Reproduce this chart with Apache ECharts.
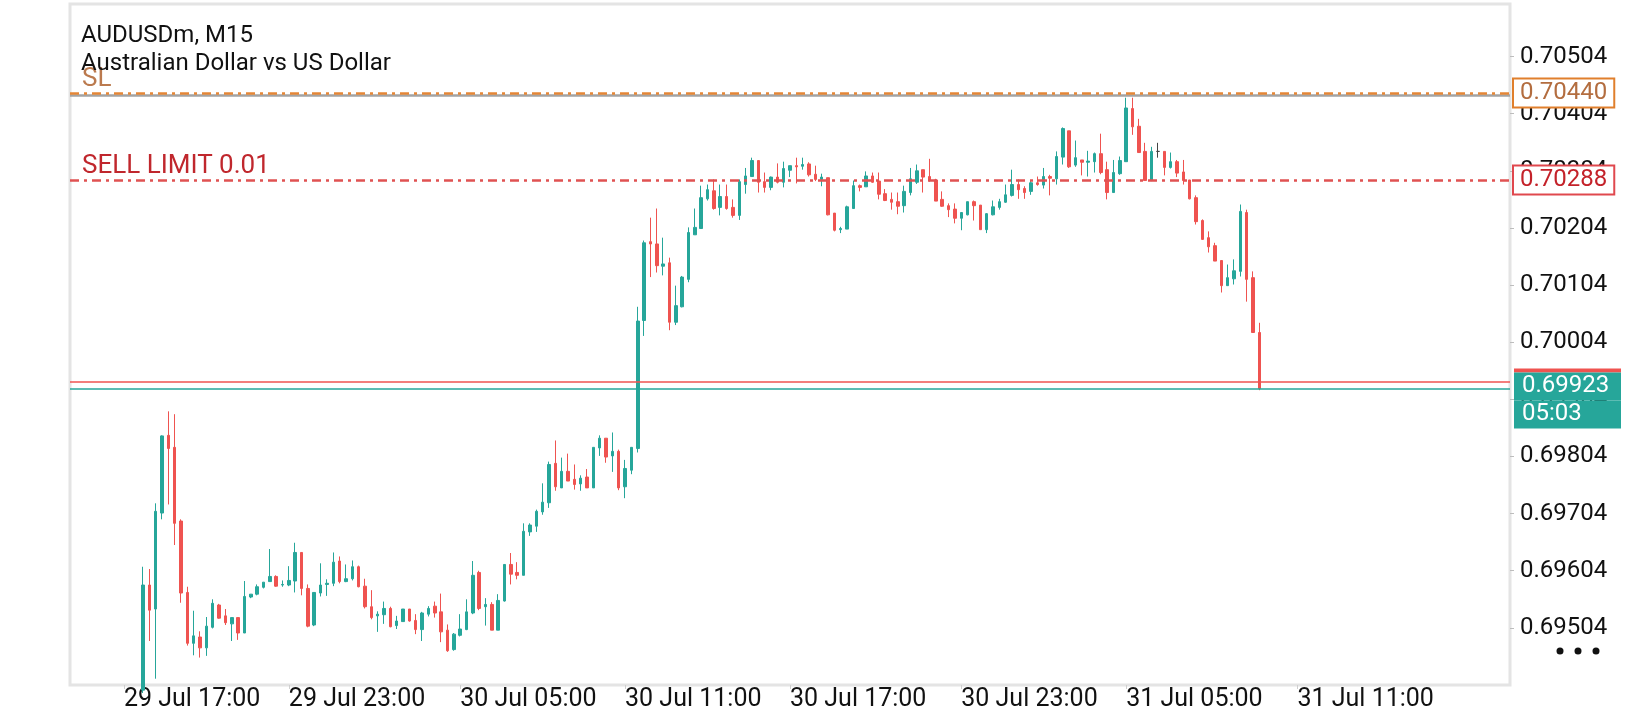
<!DOCTYPE html>
<html>
<head>
<meta charset="utf-8">
<title>AUDUSDm, M15</title>
<script src="https://cdn.jsdelivr.net/npm/echarts@6/dist/echarts.min.js"></script>
<style>
  html, body { margin: 0; padding: 0; background: #fff; }
  #main { width: 1640px; height: 720px; }
</style>
</head>
<body>
<div id="main"></div>
<script>
// M15 bars, oldest first
var opens = [
  0.69395, 0.69579, 0.69537, 0.69705, 0.69841, 0.69820, 0.69691, 0.69566, 0.69477, 0.69488,
  0.69469, 0.69505, 0.69544, 0.69525, 0.69511, 0.69522, 0.69495, 0.69558, 0.69563, 0.69575,
  0.69585, 0.69594, 0.69579, 0.69579, 0.69586, 0.69636, 0.69573, 0.69509, 0.69565, 0.69580,
  0.69582, 0.69621, 0.69585, 0.69590, 0.69611, 0.69577, 0.69541, 0.69525, 0.69527, 0.69538,
  0.69508, 0.69515, 0.69537, 0.69517, 0.69501, 0.69528, 0.69542, 0.69532, 0.69500, 0.69466,
  0.69491, 0.69501, 0.69530, 0.69601, 0.69541, 0.69545, 0.69500, 0.69551, 0.69615, 0.69601,
  0.69596, 0.69672, 0.69682, 0.69707, 0.69723, 0.69792, 0.69749, 0.69778, 0.69764, 0.69756,
  0.69768, 0.69749, 0.69819, 0.69836, 0.69805, 0.69813, 0.69751, 0.69780, 0.69818, 0.70042,
  0.70180, 0.70176, 0.70137, 0.70143, 0.70039, 0.70066, 0.70114, 0.70192, 0.70203, 0.70255,
  0.70269, 0.70240, 0.70259, 0.70240, 0.70226, 0.70280, 0.70294, 0.70322, 0.70285, 0.70275,
  0.70293, 0.70284, 0.70305, 0.70313, 0.70312, 0.70316, 0.70298, 0.70289, 0.70292, 0.70230,
  0.70201, 0.70202, 0.70238, 0.70278, 0.70276, 0.70295, 0.70286, 0.70264, 0.70254, 0.70250,
  0.70243, 0.70266, 0.70284, 0.70306, 0.70294, 0.70288, 0.70254, 0.70243, 0.70237, 0.70221,
  0.70227, 0.70250, 0.70244, 0.70201, 0.70227, 0.70240, 0.70249, 0.70261, 0.70280, 0.70273,
  0.70268, 0.70283, 0.70279, 0.70294, 0.70290, 0.70328, 0.70374, 0.70314, 0.70323, 0.70319,
  0.70320, 0.70334, 0.70306, 0.70266, 0.70299, 0.70320, 0.70413, 0.70382, 0.70338, 0.70287,
  0.70338, 0.70338, 0.70310, 0.70320, 0.70302, 0.70288, 0.70257, 0.70217, 0.70187, 0.70173,
  0.70147, 0.70103, 0.70115, 0.70128, 0.70231, 0.70117, 0.70021
];
var closes = [
  0.69579, 0.69535, 0.69708, 0.69840, 0.69818, 0.69687, 0.69565, 0.69477, 0.69490, 0.69469,
  0.69507, 0.69547, 0.69521, 0.69513, 0.69522, 0.69495, 0.69559, 0.69563, 0.69576, 0.69584,
  0.69594, 0.69577, 0.69580, 0.69587, 0.69636, 0.69573, 0.69507, 0.69566, 0.69579, 0.69582,
  0.69619, 0.69585, 0.69590, 0.69611, 0.69576, 0.69541, 0.69522, 0.69528, 0.69538, 0.69506,
  0.69516, 0.69537, 0.69516, 0.69501, 0.69530, 0.69538, 0.69530, 0.69497, 0.69464, 0.69493,
  0.69502, 0.69532, 0.69596, 0.69538, 0.69545, 0.69500, 0.69552, 0.69615, 0.69598, 0.69596,
  0.69673, 0.69684, 0.69708, 0.69724, 0.69790, 0.69751, 0.69778, 0.69761, 0.69755, 0.69766,
  0.69749, 0.69820, 0.69836, 0.69803, 0.69813, 0.69749, 0.69783, 0.69820, 0.70041, 0.70178,
  0.70176, 0.70138, 0.70141, 0.70039, 0.70068, 0.70118, 0.70196, 0.70205, 0.70257, 0.70271,
  0.70238, 0.70259, 0.70238, 0.70226, 0.70285, 0.70295, 0.70322, 0.70284, 0.70275, 0.70293,
  0.70284, 0.70308, 0.70313, 0.70311, 0.70315, 0.70297, 0.70289, 0.70293, 0.70227, 0.70200,
  0.70203, 0.70241, 0.70278, 0.70275, 0.70295, 0.70284, 0.70263, 0.70252, 0.70249, 0.70242,
  0.70268, 0.70290, 0.70304, 0.70293, 0.70287, 0.70251, 0.70242, 0.70236, 0.70221, 0.70231,
  0.70250, 0.70243, 0.70201, 0.70229, 0.70241, 0.70250, 0.70262, 0.70280, 0.70271, 0.70266,
  0.70283, 0.70280, 0.70294, 0.70291, 0.70329, 0.70378, 0.70311, 0.70327, 0.70319, 0.70321,
  0.70334, 0.70301, 0.70266, 0.70301, 0.70322, 0.70414, 0.70381, 0.70336, 0.70287, 0.70338,
  0.70338, 0.70310, 0.70320, 0.70300, 0.70287, 0.70255, 0.70215, 0.70184, 0.70171, 0.70146,
  0.70103, 0.70117, 0.70129, 0.70233, 0.70114, 0.70021, 0.69923
];
var lows = [
  0.69390, 0.69481, 0.69415, 0.69694, 0.69720, 0.69649, 0.69548, 0.69473, 0.69456, 0.69452,
  0.69455, 0.69503, 0.69520, 0.69509, 0.69481, 0.69483, 0.69495, 0.69556, 0.69561, 0.69573,
  0.69585, 0.69576, 0.69576, 0.69577, 0.69566, 0.69561, 0.69505, 0.69507, 0.69559, 0.69560,
  0.69577, 0.69582, 0.69584, 0.69587, 0.69575, 0.69538, 0.69519, 0.69497, 0.69511, 0.69505,
  0.69502, 0.69515, 0.69515, 0.69493, 0.69481, 0.69524, 0.69522, 0.69479, 0.69462, 0.69464,
  0.69489, 0.69500, 0.69528, 0.69535, 0.69508, 0.69500, 0.69500, 0.69550, 0.69580, 0.69589,
  0.69596, 0.69665, 0.69672, 0.69702, 0.69714, 0.69744, 0.69749, 0.69761, 0.69746, 0.69744,
  0.69749, 0.69749, 0.69805, 0.69793, 0.69777, 0.69745, 0.69731, 0.69773, 0.69811, 0.70015,
  0.70118, 0.70126, 0.70121, 0.70025, 0.70034, 0.70065, 0.70109, 0.70192, 0.70203, 0.70252,
  0.70236, 0.70226, 0.70236, 0.70222, 0.70218, 0.70264, 0.70294, 0.70266, 0.70266, 0.70270,
  0.70282, 0.70275, 0.70293, 0.70282, 0.70306, 0.70294, 0.70286, 0.70277, 0.70226, 0.70198,
  0.70195, 0.70202, 0.70238, 0.70268, 0.70276, 0.70283, 0.70254, 0.70251, 0.70236, 0.70228,
  0.70231, 0.70261, 0.70281, 0.70266, 0.70285, 0.70251, 0.70241, 0.70223, 0.70212, 0.70200,
  0.70226, 0.70217, 0.70201, 0.70195, 0.70226, 0.70236, 0.70248, 0.70259, 0.70255, 0.70255,
  0.70262, 0.70278, 0.70273, 0.70261, 0.70280, 0.70315, 0.70309, 0.70311, 0.70296, 0.70294,
  0.70301, 0.70298, 0.70254, 0.70266, 0.70297, 0.70320, 0.70367, 0.70336, 0.70287, 0.70286,
  0.70327, 0.70296, 0.70308, 0.70293, 0.70280, 0.70254, 0.70210, 0.70183, 0.70161, 0.70146,
  0.70091, 0.70103, 0.70105, 0.70119, 0.70075, 0.70021, 0.69920
];
var highs = [
  0.69611, 0.69607, 0.69722, 0.69841, 0.69883, 0.69878, 0.69694, 0.69576, 0.69534, 0.69498,
  0.69523, 0.69554, 0.69546, 0.69537, 0.69522, 0.69522, 0.69586, 0.69563, 0.69580, 0.69584,
  0.69642, 0.69596, 0.69587, 0.69612, 0.69653, 0.69636, 0.69580, 0.69566, 0.69617, 0.69589,
  0.69636, 0.69629, 0.69615, 0.69622, 0.69613, 0.69590, 0.69570, 0.69533, 0.69550, 0.69541,
  0.69525, 0.69537, 0.69537, 0.69528, 0.69532, 0.69542, 0.69550, 0.69564, 0.69510, 0.69495,
  0.69528, 0.69554, 0.69621, 0.69604, 0.69556, 0.69549, 0.69563, 0.69615, 0.69635, 0.69619,
  0.69687, 0.69687, 0.69711, 0.69757, 0.69795, 0.69832, 0.69802, 0.69809, 0.69790, 0.69771,
  0.69782, 0.69820, 0.69841, 0.69836, 0.69846, 0.69816, 0.69798, 0.69820, 0.70066, 0.70182,
  0.70222, 0.70238, 0.70187, 0.70152, 0.70103, 0.70120, 0.70205, 0.70238, 0.70278, 0.70280,
  0.70289, 0.70280, 0.70280, 0.70254, 0.70289, 0.70309, 0.70327, 0.70322, 0.70301, 0.70294,
  0.70317, 0.70320, 0.70313, 0.70327, 0.70327, 0.70319, 0.70313, 0.70299, 0.70292, 0.70230,
  0.70206, 0.70243, 0.70287, 0.70280, 0.70303, 0.70301, 0.70301, 0.70272, 0.70266, 0.70266,
  0.70278, 0.70309, 0.70315, 0.70306, 0.70325, 0.70290, 0.70268, 0.70247, 0.70247, 0.70231,
  0.70250, 0.70252, 0.70244, 0.70230, 0.70252, 0.70255, 0.70280, 0.70306, 0.70289, 0.70277,
  0.70287, 0.70294, 0.70309, 0.70297, 0.70338, 0.70380, 0.70374, 0.70357, 0.70323, 0.70339,
  0.70336, 0.70369, 0.70320, 0.70323, 0.70329, 0.70432, 0.70432, 0.70395, 0.70353, 0.70346,
  0.70353, 0.70338, 0.70336, 0.70323, 0.70323, 0.70288, 0.70261, 0.70219, 0.70198, 0.70178,
  0.70147, 0.70140, 0.70149, 0.70245, 0.70236, 0.70128, 0.70038
];

// time scale: labels and the bar slots they sit on
var timeLabels = ['29 Jul 17:00', '29 Jul 23:00', '30 Jul 05:00', '30 Jul 11:00',
                  '30 Jul 17:00', '30 Jul 23:00', '31 Jul 05:00', '31 Jul 11:00'];
var tickSlots = [8, 34, 61, 87, 113, 140, 166, 193];
var slotCount = 227;   // visible bar slots incl. empty space on the right
var firstSlot = 11;    // slot of the first bar

// price levels
var slPrice = 0.70440;
var greyLevel = 0.70436;
var sellLimitPrice = 0.70288;
var askPrice = 0.69934;
var bidPrice = 0.69923;
var barTimer = '05:03';

var UP = '#26a69a', DOWN = '#ef5350';
var FONT = 'Roboto';
var CLEAR = 'rgba(0,0,0,0)';

var slots = [];
var candleData = [];
for (var s = 0; s < slotCount; s++) {
  slots.push(String(s));
  var i = s - firstSlot;
  if (i >= 0 && i < opens.length) {
    candleData.push([opens[i], closes[i], lows[i], highs[i]]);
  } else {
    candleData.push(['-', '-', '-', '-']);
  }
}

function isTick(index) {
  return tickSlots.indexOf(index) >= 0;
}

var chart = echarts.init(document.getElementById('main'));
chart.setOption({
  animation: false,
  backgroundColor: '#fff',
  textStyle: { fontFamily: FONT },
  title: {
    text: 'AUDUSDm, M15\nAustralian Dollar vs US Dollar',
    left: 76,
    top: 17,
    textStyle: { fontFamily: FONT, fontSize: 24, fontWeight: 'normal', color: '#111', lineHeight: 28 }
  },
  grid: {
    left: 70, right: 130, top: 4, bottom: 35,
    show: true, borderColor: '#e4e4e4', borderWidth: 3
  },
  xAxis: {
    type: 'category',
    data: slots,
    boundaryGap: true,
    axisLine: { show: false },
    axisTick: {
      show: true, alignWithLabel: true, length: 4,
      interval: isTick,
      lineStyle: { color: '#cfcfcf' }
    },
    axisLabel: {
      interval: isTick,
      align: 'left',
      margin: 2,
      fontFamily: FONT, fontSize: 25, color: '#111',
      formatter: function (value, index) {
        var k = tickSlots.indexOf(index);
        return k >= 0 ? timeLabels[k] : '';
      }
    },
    splitLine: { show: false }
  },
  yAxis: {
    type: 'value',
    position: 'right',
    scale: true,
    min: 0.69404,
    max: 0.70596,
    interval: 0.001,
    axisLine: { show: false },
    axisTick: { show: true, length: 4, lineStyle: { color: '#bdbdbd' } },
    splitLine: { show: false },
    axisLabel: {
      margin: 10,
      showMinLabel: false,
      showMaxLabel: false,
      fontFamily: FONT, fontSize: 24, color: '#111',
      formatter: function (v) { return v.toFixed(5); }
    }
  },
  series: [{
    type: 'candlestick',
    data: candleData,
    barWidth: 3,
    clip: true,
    itemStyle: {
      color: UP, color0: DOWN,
      borderColor: UP, borderColor0: DOWN,
      borderColorDoji: '#444',
      borderWidth: 1
    },
    markLine: {
      silent: true,
      symbol: 'none',
      precision: 5,
      animation: false,
      data: [
        {
          yAxis: greyLevel,
          lineStyle: { color: '#a3a3a3', width: 2.5, type: 'solid' },
          label: { show: false }
        },
        {
          yAxis: slPrice,
          lineStyle: { color: '#e58636', width: 2.5, type: [9, 5, 3, 5] },
          label: {
            show: true, position: 'end', distance: 4,
            formatter: slPrice.toFixed(5),
            fontFamily: FONT, fontSize: 24, color: '#b36d3f',
            backgroundColor: '#fff', borderColor: '#e07f2c', borderWidth: 2,
            padding: [2, 6, 1, 6]
          }
        },
        {
          yAxis: slPrice,
          lineStyle: { color: CLEAR, width: 1 },
          label: {
            show: true, position: 'insideStartTop', distance: [12, 1],
            formatter: 'SL',
            fontFamily: FONT, fontSize: 26, color: '#bb7a4e'
          }
        },
        {
          yAxis: sellLimitPrice,
          lineStyle: { color: '#e05252', width: 2.5, type: [9, 5, 3, 5] },
          label: {
            show: true, position: 'end', distance: 4,
            formatter: sellLimitPrice.toFixed(5),
            fontFamily: FONT, fontSize: 24, color: '#c4222a',
            backgroundColor: '#fff', borderColor: '#e0484e', borderWidth: 2,
            padding: [2, 6, 1, 6]
          }
        },
        {
          yAxis: sellLimitPrice,
          lineStyle: { color: CLEAR, width: 1 },
          label: {
            show: true, position: 'insideStartTop', distance: [12, 0],
            formatter: 'SELL LIMIT 0.01',
            fontFamily: FONT, fontSize: 26, color: '#c0272d'
          }
        },
        {
          yAxis: askPrice,
          lineStyle: { color: DOWN, width: 1.5, type: 'solid' },
          label: { show: false }
        },
        {
          yAxis: bidPrice,
          lineStyle: { color: UP, width: 1.5, type: 'solid' },
          label: {
            show: true, position: 'end', distance: 4,
            formatter: '{s| }\n{r| }\n{a|' + bidPrice.toFixed(5) + '}\n{a|' + barTimer + '}',
            rich: {
              s: { height: 20, lineHeight: 20, fontSize: 1 },
              r: { width: 107, height: 4, lineHeight: 4, fontSize: 1, backgroundColor: DOWN },
              a: {
                width: 99, height: 28, lineHeight: 28, padding: [0, 0, 0, 8],
                fontFamily: FONT, fontSize: 24, color: '#fff', backgroundColor: UP
              }
            }
          }
        }
      ]
    }
  }],
  graphic: [
    { type: 'circle', shape: { cx: 1560, cy: 651, r: 3.5 }, style: { fill: '#111' } },
    { type: 'circle', shape: { cx: 1578, cy: 651, r: 3.5 }, style: { fill: '#111' } },
    { type: 'circle', shape: { cx: 1596, cy: 651, r: 3.5 }, style: { fill: '#111' } }
  ]
});
</script>
</body>
</html>
